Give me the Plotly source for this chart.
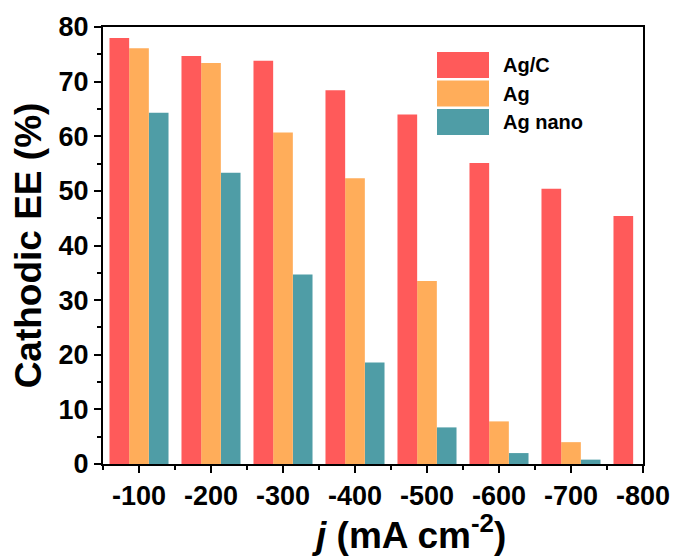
import plotly.graph_objects as go

categories = [-100, -200, -300, -400, -500, -600, -700, -800]
tick_labels = ["-100", "-200", "-300", "-400", "-500", "-600", "-700", "-800"]
series_names = ["Ag/C", "Ag", "Ag nano"]
ag_c = [78.0, 74.7, 73.8, 68.4, 64.0, 55.1, 50.4, 45.4]
ag = [76.1, 73.4, 60.7, 52.3, 33.5, 7.8, 4.0, 0.0]
ag_nano = [64.3, 53.3, 34.7, 18.6, 6.7, 2.0, 0.8, 0.0]
colors = ["#FF5A5A", "#FFAD5A", "#4F9DA6"]

FONT = "Liberation Sans, Arial, sans-serif"
W, H = 676, 556
L, R, T, B = 103, 33, 27, 92
PW, PH = W - L - R, H - T - B

fig = go.Figure()
series = list(zip(series_names, [ag_c, ag, ag_nano], colors))
# axis is reversed, so add traces in reverse order to keep Ag/C on the left of each group
for name, vals, c in reversed(series):
    fig.add_trace(go.Bar(x=categories, y=vals, name=name, marker=dict(color=c, line=dict(width=0)),
                         showlegend=False))

fig.update_layout(
    width=W, height=H, autosize=False,
    margin=dict(l=L, r=R, t=T, b=B, autoexpand=False),
    plot_bgcolor="white", paper_bgcolor="white",
    barmode="group", bargap=0.18, bargroupgap=0,
    font=dict(family=FONT, color="black"),
)
fig.update_xaxes(
    range=[-50, -800], tickvals=categories, ticktext=tick_labels, automargin=False,
    showline=True, linecolor="black", linewidth=2, mirror=True,
    ticks="outside", ticklen=7, tickwidth=2, tickcolor="black",
    minor=dict(tickvals=[-50, -150, -250, -350, -450, -550, -650, -750], ticks="outside", ticklen=4, tickwidth=2, tickcolor="black"),
    tickfont=dict(size=27, weight="bold", family=FONT),
    showgrid=False, zeroline=False,
)
fig.update_yaxes(
    range=[0, 80], tickvals=[0, 10, 20, 30, 40, 50, 60, 70, 80], automargin=False,
    showline=True, linecolor="black", linewidth=2, mirror=True,
    ticks="outside", ticklen=7, tickwidth=2, tickcolor="black",
    minor=dict(tickvals=[5, 15, 25, 35, 45, 55, 65, 75], ticks="outside", ticklen=4, tickwidth=2, tickcolor="black"),
    tickfont=dict(size=27, weight="bold", family=FONT),
    showgrid=False, zeroline=False,
    title=dict(text="Cathodic EE (%)", font=dict(size=37, weight="bold", family=FONT), standoff=6),
)

# x-axis title placed as in the reference (slightly right of plot centre)
fig.add_annotation(xref="paper", yref="paper", x=(409 - L) / PW, y=(H - B - 532) / PH,
                   text="<i>j</i> (mA cm<sup>-2</sup>)", showarrow=False, xanchor="center", yanchor="middle",
                   font=dict(size=37, weight="bold", family=FONT, color="black"))

# custom legend (large swatches), positions in reference pixels mapped to plot-area fractions
legend_top = [52, 80.5, 109]
for (name, vals, c), yt in zip(series, legend_top):
    fig.add_shape(type="rect", xref="paper", yref="paper",
                  x0=(437 - L) / PW, x1=(489 - L) / PW,
                  y0=(H - B - yt - 26) / PH, y1=(H - B - yt) / PH,
                  fillcolor=c, line=dict(width=0))
    fig.add_annotation(xref="paper", yref="paper", x=(501 - L) / PW, y=(H - B - yt - 13) / PH,
                       text=name, showarrow=False, xanchor="left", yanchor="middle",
                       font=dict(size=20, weight="bold", family=FONT, color="black"))

fig.write_html("out.html", config={"displayModeBar": False},
               post_script="document.body.style.margin='0';document.body.style.overflow='hidden';")
